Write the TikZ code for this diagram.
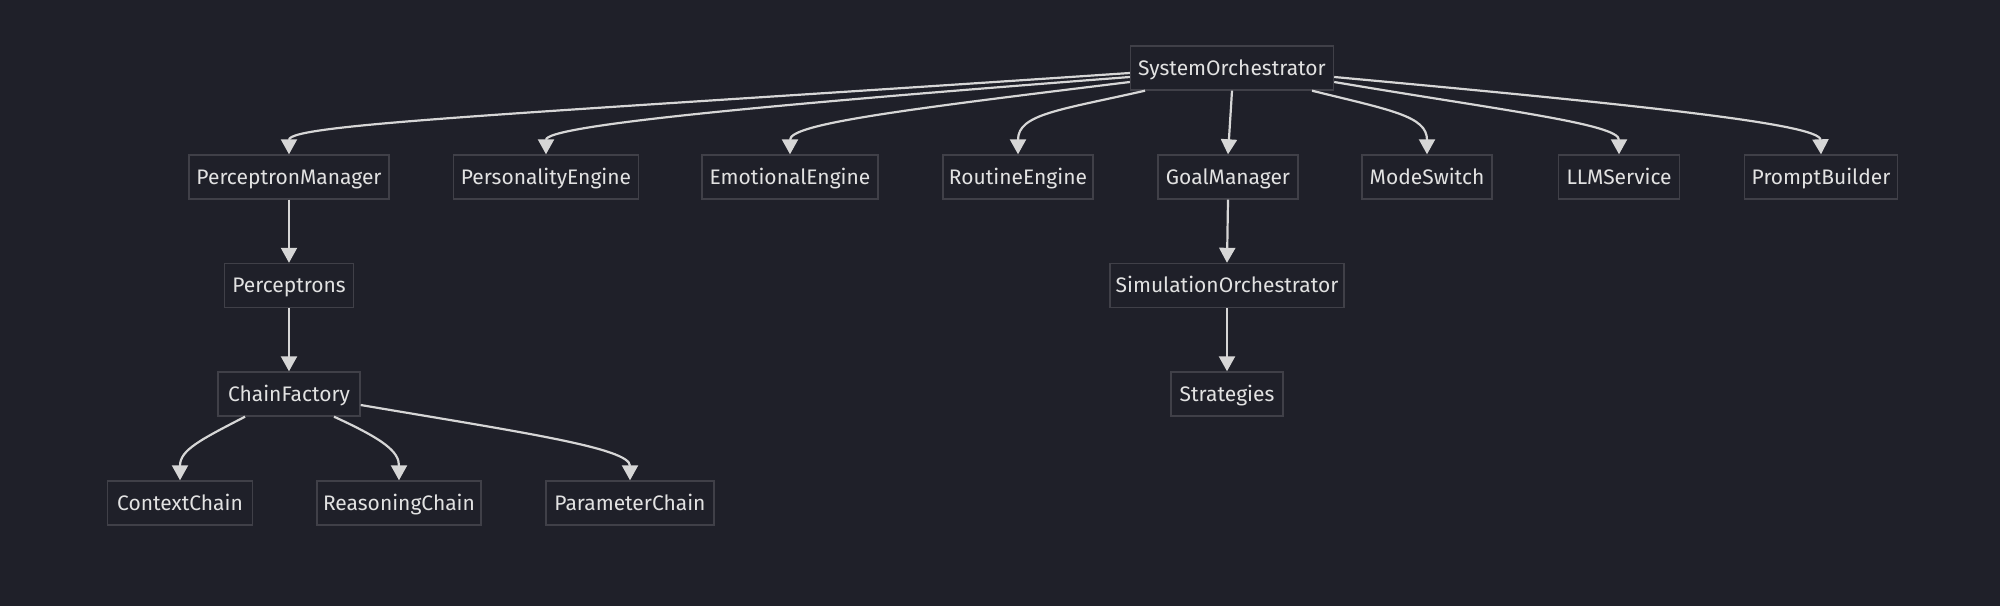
\documentclass[tikz,border=0pt]{standalone}
\usepackage{fontspec}
\setmainfont{Fira Sans}
\usetikzlibrary{arrows.meta}
\definecolor{bgc}{RGB}{31,32,41}
\definecolor{boxc}{RGB}{31,32,41}
\definecolor{borderc}{RGB}{64,64,72}
\definecolor{linec}{RGB}{214,214,214}
\definecolor{textc}{RGB}{226,226,226}
\begin{document}
\begin{tikzpicture}[x=0.5pt,y=-0.5pt,
  box/.style={draw=borderc, line width=0.7pt, fill=boxc, text=textc, minimum height=22pt, inner sep=0pt, text height=9pt, text depth=1.8pt, font=\fontsize{10.5}{12}\selectfont},
  edge/.style={draw=linec, line width=1.1pt, -{Triangle[length=7.5pt,width=8pt]}}]
\useasboundingbox (0,0) rectangle (2000,605);
\fill[bgc] (-10,-10) rectangle (2010,615);
% nodes
\node[box, minimum width=101.5pt] (so) at (1232,68) {SystemOrchestrator};
\node[box, minimum width=100pt] (pm) at (289,177) {PerceptronManager};
\node[box, minimum width=92.5pt] (pe) at (546,177) {PersonalityEngine};
\node[box, minimum width=88pt] (ee) at (790,177) {EmotionalEngine};
\node[box, minimum width=75pt] (re) at (1018,177) {RoutineEngine};
\node[box, minimum width=70pt] (gm) at (1228,177) {GoalManager};
\node[box, minimum width=65pt] (ms) at (1427,177) {ModeSwitch};
\node[box, minimum width=60.5pt] (llm) at (1619,177) {LLMService};
\node[box, minimum width=76.5pt] (pb) at (1821,177) {PromptBuilder};
\node[box, minimum width=64.5pt] (pc) at (289,285.5) {Perceptrons};
\node[box, minimum width=117pt] (sim) at (1227,285.5) {SimulationOrchestrator};
\node[box, minimum width=71pt] (cf) at (289,394) {ChainFactory};
\node[box, minimum width=56pt] (st) at (1227,394) {Strategies};
\node[box, minimum width=72.5pt] (cc) at (180,503) {ContextChain};
\node[box, minimum width=82pt] (rc) at (399,503) {ReasoningChain};
\node[box, minimum width=84pt] (prc) at (630,503) {ParameterChain};
% edges from SystemOrchestrator
\draw[edge] ([yshift=-2.5pt]so.west) .. controls (520,114) and (289,124) .. (pm.north);
\draw[edge] ([yshift=-4.5pt]so.west) .. controls (750,106) and (546,126) .. (pe.north);
\draw[edge] ([yshift=-7pt]so.west) .. controls (900,110) and (790,124) .. (ee.north);
\draw[edge] ([xshift=-43.5pt]so.south) .. controls (1060,110) and (1018,114) .. (re.north);
\draw[edge] (so.south) -- (gm.north);
\draw[edge] ([xshift=40pt]so.south) .. controls (1390,110) and (1427,116) .. (ms.north);
\draw[edge] ([yshift=-7pt]so.east) .. controls (1500,110) and (1619,124) .. (llm.north);
\draw[edge] ([yshift=-4.5pt]so.east) .. controls (1640,105) and (1820,124) .. (pb.north);
% vertical chains
\draw[edge] (pm.south) -- (pc.north);
\draw[edge] (pc.south) -- (cf.north);
\draw[edge] (gm.south) -- (sim.north);
\draw[edge] (sim.south) -- (st.north);
% chain factory children
\draw[edge] ([xshift=-22pt]cf.south) .. controls (200,440) and (180,450) .. (cc.north);
\draw[edge] ([xshift=22.5pt]cf.south) .. controls (385,440) and (399,452) .. (rc.north);
\draw[edge] ([yshift=-5.5pt]cf.east) .. controls (520,432) and (630,448) .. (prc.north);
\end{tikzpicture}
\end{document}
